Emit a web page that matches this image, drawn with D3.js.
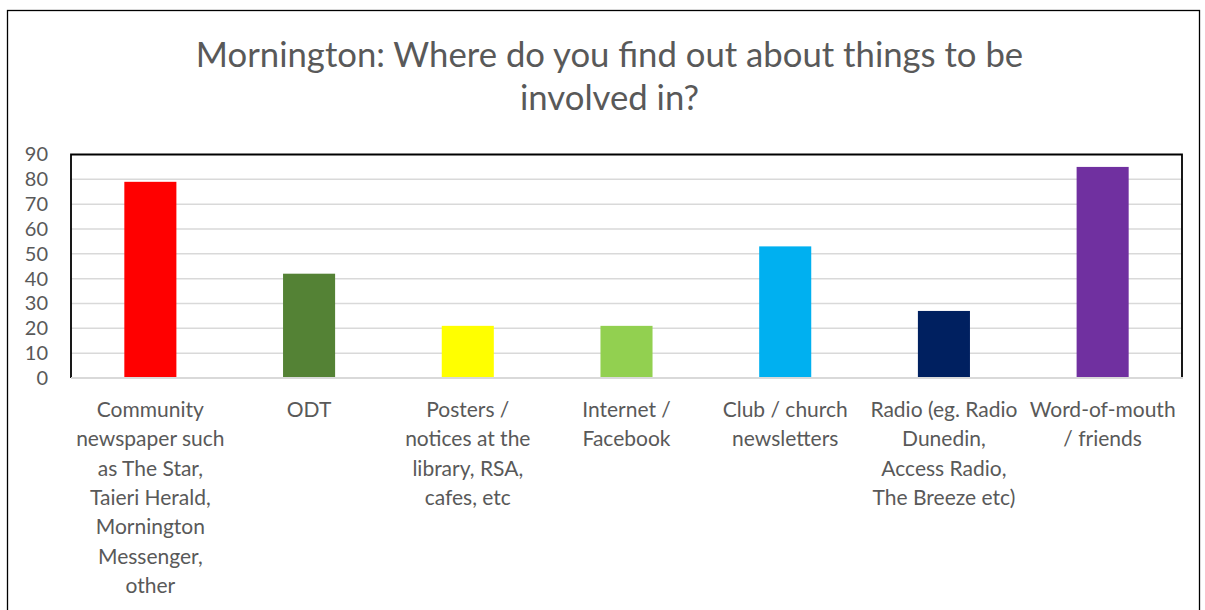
<!DOCTYPE html>
<html>
<head>
<meta charset="utf-8">
<script src="https://cdn.jsdelivr.net/npm/d3@7"></script>
<style>
  html, body { margin: 0; padding: 0; background: #fff; }
  svg { display: block; }
  text { font-family: Lato, "Open Sans", sans-serif; fill: #595959; }
</style>
</head>
<body>
<div id="chart"></div>
<script>
// Survey responses: where people find out about things to be involved in
const titleLines = ["Mornington: Where do you find out about things to be", "involved in?"];
const categories = [
  "Community newspaper such as The Star, Taieri Herald, Mornington Messenger, other",
  "ODT",
  "Posters / notices at the library, RSA, cafes, etc",
  "Internet / Facebook",
  "Club / church newsletters",
  "Radio (eg. Radio Dunedin, Access Radio, The Breeze etc)",
  "Word-of-mouth / friends"
];
// Wrapped label lines for each category
const categoryLines = [
  ["Community", "newspaper such", "as The Star,", "Taieri Herald,", "Mornington", "Messenger,", "other"],
  ["ODT"],
  ["Posters /", "notices at the", "library, RSA,", "cafes, etc"],
  ["Internet /", "Facebook"],
  ["Club / church", "newsletters"],
  ["Radio (eg. Radio", "Dunedin,", "Access Radio,", "The Breeze etc)"],
  ["Word-of-mouth", "/ friends"]
];
const values = [79, 42, 21, 21, 53, 27, 85];
const colors = ["#FF0000", "#548235", "#FFFF00", "#92D050", "#00B0F0", "#002060", "#7030A0"];
const yTicks = [0, 10, 20, 30, 40, 50, 60, 70, 80, 90];

const W = 1205, H = 610;
const plot = { left: 71, right: 1182, top: 154.5, bottom: 378 };

const svg = d3.select("#chart").append("svg")
  .attr("width", W).attr("height", H);

// Chart area border
svg.append("rect")
  .attr("x", 7.5).attr("y", 10.5)
  .attr("width", 1192).attr("height", 640)
  .attr("fill", "#fff").attr("stroke", "#000").attr("stroke-width", 1.3);

// Title
const title = svg.append("text")
  .attr("text-anchor", "middle")
  .style("font-size", "34.7px");
title.selectAll("tspan").data(titleLines).join("tspan")
  .attr("x", 609.5)
  .attr("y", (d, i) => 67 + i * 43)
  .text(d => d);

const x = d3.scaleBand()
  .domain(categories)
  .range([plot.left, plot.right])
  .paddingInner(0.672)
  .paddingOuter(0.336);

const y = d3.scaleLinear()
  .domain([0, 90])
  .range([plot.bottom, plot.top]);

// Horizontal gridlines
svg.append("g")
  .selectAll("line")
  .data(yTicks.filter(d => d > 0 && d < 90))
  .join("line")
  .attr("x1", plot.left).attr("x2", plot.right)
  .attr("y1", d => y(d)).attr("y2", d => y(d))
  .attr("stroke", "#d9d9d9").attr("stroke-width", 1.5);

// Value axis labels
const yAxis = d3.axisLeft(y).tickValues(yTicks).tickSize(0).tickPadding(23);
const gy = svg.append("g")
  .attr("transform", `translate(${plot.left},0)`)
  .call(yAxis);
gy.select(".domain").remove();
gy.selectAll("text")
  .style("font-size", "20px")
  .style("font-family", "Lato, 'Open Sans', sans-serif")
  .attr("fill", "#595959");

// Bars
svg.append("g")
  .selectAll("rect")
  .data(values)
  .join("rect")
  .attr("x", (d, i) => x(categories[i]))
  .attr("y", d => y(d))
  .attr("width", x.bandwidth())
  .attr("height", d => y(0) - y(d))
  .attr("fill", (d, i) => colors[i]);

// Plot area frame: top, left, right in black
svg.append("path")
  .attr("d", `M${plot.left},${plot.bottom}V${plot.top}H${plot.right}V${plot.bottom}`)
  .attr("fill", "none").attr("stroke", "#000").attr("stroke-width", 1.8);

// Category axis line
svg.append("line")
  .attr("x1", plot.left).attr("x2", plot.right + 1)
  .attr("y1", plot.bottom).attr("y2", plot.bottom)
  .attr("stroke", "#d9d9d9").attr("stroke-width", 2.2);

// Category labels
const labels = svg.append("g")
  .selectAll("text")
  .data(categories)
  .join("text")
  .attr("text-anchor", "middle")
  .style("font-size", "21px");
labels.each(function (c, i) {
  d3.select(this).selectAll("tspan")
    .data(categoryLines[i])
    .join("tspan")
    .attr("x", x(c) + x.bandwidth() / 2)
    .attr("y", (d, j) => 417 + j * 29.3)
    .text(d => d);
});
</script>
</body>
</html>
